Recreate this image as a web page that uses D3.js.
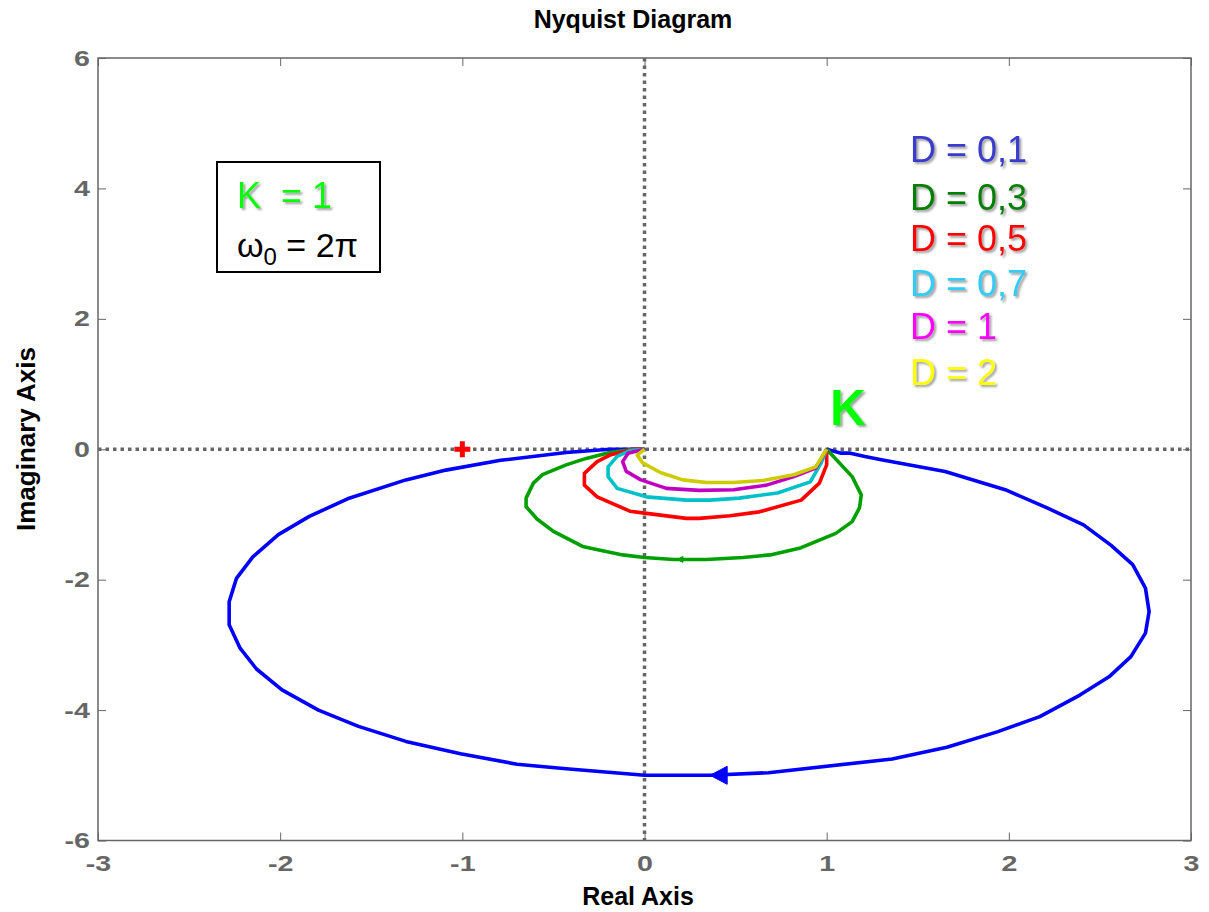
<!DOCTYPE html>
<html>
<head>
<meta charset="utf-8">
<script src="https://cdn.jsdelivr.net/npm/d3@7"></script>
<style>
    body { margin: 0; background: #fff; }
    text { font-family: 'Liberation Sans', Arial, sans-serif; }
</style>
</head>
<body>
<script>
// Nyquist curves, [real, imag]
let curveD01 = [[1,0],[1.08,-0.06],[1.13,-0.06],[1.21,-0.11],[1.30,-0.16],[1.65,-0.34],[1.98,-0.62],[2.21,-0.90],[2.41,-1.16],[2.56,-1.47],[2.68,-1.77],[2.75,-2.13],[2.77,-2.49],[2.75,-2.82],[2.67,-3.18],[2.55,-3.49],[2.39,-3.77],[2.17,-4.10],[1.94,-4.33],[1.66,-4.57],[1.36,-4.75],[0.68,-4.96],[0.36,-5.0],[0,-5.0],[-0.43,-4.90],[-0.70,-4.83],[-1.01,-4.67],[-1.31,-4.48],[-1.57,-4.25],[-1.79,-4.00],[-1.99,-3.69],[-2.13,-3.37],[-2.22,-3.05],[-2.28,-2.69],[-2.28,-2.34],[-2.24,-1.98],[-2.15,-1.65],[-2.01,-1.31],[-1.84,-1.03],[-1.63,-0.76],[-1.31,-0.47],[-1.09,-0.32],[-0.79,-0.17],[-0.43,-0.05],[-0.19,0],[-0.08,0],[0,0]];
let curveD03 = [[1,0],[1.14,-0.42],[1.19,-0.70],[1.18,-0.90],[1.14,-1.11],[1.05,-1.29],[0.85,-1.52],[0.69,-1.62],[0.54,-1.66],[0.34,-1.69],[0.16,-1.69],[0,-1.66],[-0.12,-1.62],[-0.34,-1.49],[-0.50,-1.26],[-0.59,-1.07],[-0.65,-0.88],[-0.65,-0.75],[-0.61,-0.52],[-0.56,-0.39],[-0.43,-0.24],[-0.32,-0.14],[-0.19,-0.05],[-0.06,0],[0,0]];
let curveD05 = [[1,0],[1.0,-0.24],[0.96,-0.52],[0.86,-0.78],[0.63,-0.96],[0.47,-1.02],[0.30,-1.06],[0.23,-1.06],[0,-0.98],[-0.08,-0.95],[-0.26,-0.73],[-0.33,-0.55],[-0.33,-0.37],[-0.26,-0.19],[-0.19,-0.09],[-0.06,0],[0,0]];
let curveD07 = [[1,0],[0.97,-0.21],[0.91,-0.50],[0.73,-0.67],[0.52,-0.75],[0.36,-0.78],[0.23,-0.78],[0.01,-0.73],[-0.15,-0.60],[-0.20,-0.42],[-0.20,-0.27],[-0.15,-0.11],[-0.08,-0.02],[0,0]];
let curveD1 = [[1,0],[0.94,-0.29],[0.82,-0.42],[0.67,-0.55],[0.49,-0.62],[0.30,-0.63],[0.12,-0.60],[-0.02,-0.47],[-0.10,-0.34],[-0.12,-0.19],[-0.09,-0.06],[0,0]];
let curveD2 = [[1,0],[0.94,-0.27],[0.82,-0.39],[0.65,-0.48],[0.49,-0.51],[0.34,-0.51],[0.21,-0.47],[0.09,-0.36],[-0.01,-0.21],[-0.04,-0.09],[0,0]];

let curves = [curveD01, curveD03, curveD05, curveD07, curveD1, curveD2];
let curveColors = ['#0000ff', '#00a000', '#ff0000', '#00c0c8', '#c000c0', '#cccc00'];
let legendLabels = ['D = 0,1', 'D = 0,3', 'D = 0,5', 'D = 0,7', 'D = 1', 'D = 2'];
let legendColors = ['#3a3acc', '#008000', '#ff0000', '#33ccf5', '#ff00ff', '#ffff00'];

let xTicks = [-3, -2, -1, 0, 1, 2, 3];
let yTicks = [-6, -4, -2, 0, 2, 4, 6];
// direction arrows: [real, imag, size]
let arrowAt = [[0.36, -5.0, 9], [0.18, -1.69, 3]];

let width = 1209, height = 912;
let plot = {left: 98, right: 1191, top: 58, bottom: 840.5};
let gray = '#666';

let svg = d3.select('body').append('svg')
    .attr('width', width)
    .attr('height', height);

// drop shadow for the coloured labels
let defs = svg.append('defs');
defs.append('filter')
    .attr('id', 'shadow')
    .attr('x', '-20%').attr('y', '-20%')
    .attr('width', '140%').attr('height', '140%')
    .append('feDropShadow')
    .attr('dx', 2).attr('dy', 2)
    .attr('stdDeviation', 1.2)
    .attr('flood-color', '#777')
    .attr('flood-opacity', 0.7);
defs.append('clipPath').attr('id', 'clip')
    .append('rect')
    .attr('x', plot.left).attr('y', plot.top)
    .attr('width', plot.right - plot.left)
    .attr('height', plot.bottom - plot.top);

let x = d3.scaleLinear().domain([-3, 3]).range([plot.left, plot.right]);
let y = d3.scaleLinear().domain([-6, 6]).range([plot.bottom, plot.top]);

// Axes (ticks point inward, all four sides); the tick font is wide in the original
function styleAxis(sel, origin) {
    sel.select('.domain').remove();
    sel.selectAll('.tick line').attr('stroke', gray).attr('stroke-width', 1);
    sel.selectAll('.tick text')
        .attr('fill', gray)
        .style('font-family', "'Liberation Sans', Arial, sans-serif")
        .style('font-size', '22px')
        .style('font-weight', 'bold')
        .style('transform', 'scaleX(1.3)')
        .style('transform-box', 'fill-box')
        .style('transform-origin', origin);
}

svg.append('g')
    .attr('transform', `translate(0,${plot.bottom})`)
    .call(d3.axisBottom(x).tickValues(xTicks).tickSize(-8).tickPadding(15).tickFormat(d => String(d)))
    .call(styleAxis, 'center');
svg.append('g')
    .attr('transform', `translate(0,${plot.top})`)
    .call(d3.axisTop(x).tickValues(xTicks).tickSize(-8).tickFormat(''))
    .call(styleAxis, 'center');
svg.append('g')
    .attr('transform', `translate(${plot.left},0)`)
    .call(d3.axisLeft(y).tickValues(yTicks).tickSize(-8).tickPadding(8).tickFormat(d => String(d)))
    .call(styleAxis, 'right');
svg.append('g')
    .attr('transform', `translate(${plot.right},0)`)
    .call(d3.axisRight(y).tickValues(yTicks).tickSize(-8).tickFormat(''))
    .call(styleAxis, 'center');

svg.append('rect')
    .attr('x', plot.left).attr('y', plot.top)
    .attr('width', plot.right - plot.left)
    .attr('height', plot.bottom - plot.top)
    .attr('fill', 'none')
    .attr('stroke', gray)
    .attr('stroke-width', 1.5);

let g = svg.append('g').attr('clip-path', 'url(#clip)');

// dotted zero lines
g.append('line')
    .attr('x1', plot.left).attr('x2', plot.right)
    .attr('y1', y(0)).attr('y2', y(0))
    .attr('stroke', gray).attr('stroke-width', 3.5)
    .attr('stroke-dasharray', '3.5,4');
g.append('line')
    .attr('x1', x(0)).attr('x2', x(0))
    .attr('y1', plot.top).attr('y2', plot.bottom)
    .attr('stroke', gray).attr('stroke-width', 3.5)
    .attr('stroke-dasharray', '3.5,4');

// the curves, biggest first
let line = d3.line().x(d => x(d[0])).y(d => y(d[1]));
curves.forEach((c, i) => {
    g.append('path')
        .datum(c)
        .attr('d', line)
        .attr('fill', 'none')
        .attr('stroke', curveColors[i])
        .attr('stroke-width', 3.6)
        .attr('stroke-linejoin', 'round');
});

// arrows pointing to the left
arrowAt.forEach((a, i) => {
    let px = x(a[0]), py = y(a[1]), s = a[2];
    g.append('path')
        .attr('d', `M${px},${py} L${px + s * 1.9},${py - s} L${px + s * 1.9},${py + s} Z`)
        .attr('fill', curveColors[i])
        .attr('stroke', curveColors[i])
        .attr('stroke-width', 1);
});

// critical point -1
g.append('path')
    .attr('d', `M${x(-1) - 8},${y(0)} h16 M${x(-1)},${y(0) - 8} v16`)
    .attr('stroke', '#ff0000')
    .attr('stroke-width', 5);

// Titles
svg.append('text')
    .attr('x', 633).attr('y', 28)
    .attr('text-anchor', 'middle')
    .style('font-size', '25px').style('font-weight', 'bold')
    .text('Nyquist Diagram');
svg.append('text')
    .attr('x', 638).attr('y', 905)
    .attr('text-anchor', 'middle')
    .style('font-size', '25px').style('font-weight', 'bold')
    .text('Real Axis');
svg.append('text')
    .attr('transform', 'translate(35,439) rotate(-90)')
    .attr('text-anchor', 'middle')
    .style('font-size', '26px').style('font-weight', 'bold')
    .text('Imaginary Axis');

// parameter box
svg.append('rect')
    .attr('x', 217).attr('y', 162)
    .attr('width', 163).attr('height', 110)
    .attr('fill', '#fff')
    .attr('stroke', '#000')
    .attr('stroke-width', 2);
svg.append('text')
    .attr('x', 237).attr('y', 208)
    .attr('fill', '#00ff00')
    .attr('filter', 'url(#shadow)')
    .style('font-size', '36px')
    .style('white-space', 'pre')
    .text('K  = 1');
let w0 = svg.append('text')
    .attr('x', 237).attr('y', 257)
    .attr('fill', '#000')
    .style('font-size', '34px');
w0.append('tspan').text('ω');
w0.append('tspan').attr('dy', 8).style('font-size', '24px').text('0');
w0.append('tspan').attr('dy', -8).text(' = 2π');

// D legend
svg.selectAll('.legend')
    .data(legendLabels)
    .enter().append('text')
    .attr('class', 'legend')
    .attr('x', 910)
    .attr('y', (d, i) => [162, 210, 251, 296, 339, 385][i])
    .attr('fill', (d, i) => legendColors[i])
    .attr('filter', 'url(#shadow)')
    .style('font-size', '36px')
    .text(d => d);

// K marker
svg.append('text')
    .attr('x', 830).attr('y', 425)
    .attr('fill', '#00ff00')
    .attr('filter', 'url(#shadow)')
    .style('font-size', '50px').style('font-weight', 'bold')
    .text('K');
</script>
</body>
</html>
